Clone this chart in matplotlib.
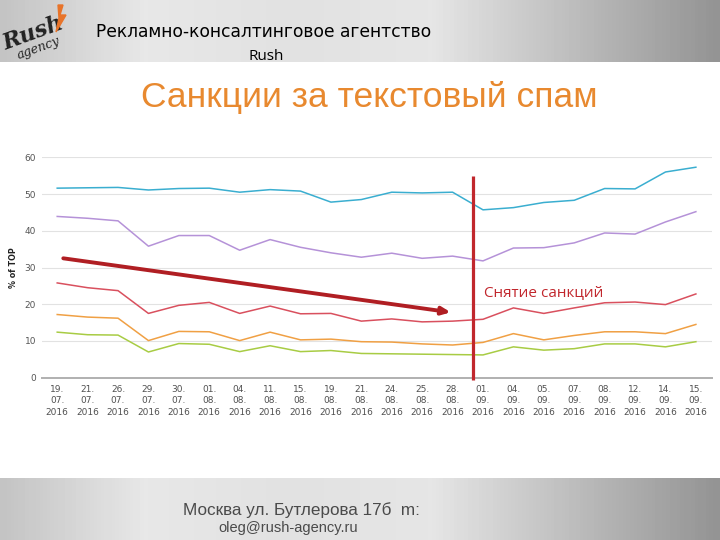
import matplotlib
matplotlib.use("Agg")
import matplotlib.pyplot as plt
import numpy as np

dates = ["19.\n07.\n2016", "21.\n07.\n2016", "26.\n07.\n2016", "29.\n07.\n2016", "30.\n07.\n2016",
         "01.\n08.\n2016", "04.\n08.\n2016", "11.\n08.\n2016", "15.\n08.\n2016", "19.\n08.\n2016",
         "21.\n08.\n2016", "24.\n08.\n2016", "25.\n08.\n2016", "28.\n08.\n2016", "01.\n09.\n2016",
         "04.\n09.\n2016", "05.\n09.\n2016", "07.\n09.\n2016", "08.\n09.\n2016", "12.\n09.\n2016",
         "14.\n09.\n2016", "15.\n09.\n2016"]

blue = [51.6, 51.7, 51.8, 51.1, 51.5, 51.6, 50.5, 51.2, 50.8, 47.8, 48.5,
        50.5, 50.3, 50.5, 45.7, 46.3, 47.7, 48.3, 51.5, 51.4, 56.0, 57.3]
purple = [43.9, 43.4, 42.7, 35.8, 38.7, 38.7, 34.7, 37.6, 35.5, 34.0, 32.8,
          33.9, 32.5, 33.1, 31.8, 35.3, 35.4, 36.7, 39.4, 39.1, 42.4, 45.2]
red = [25.8, 24.5, 23.7, 17.5, 19.7, 20.5, 17.5, 19.5, 17.4, 17.5, 15.4,
       16.0, 15.2, 15.4, 15.9, 19.0, 17.5, 19.0, 20.4, 20.6, 19.9, 22.8]
orange = [17.2, 16.5, 16.2, 10.1, 12.6, 12.5, 10.1, 12.4, 10.3, 10.5, 9.8,
          9.7, 9.2, 8.9, 9.6, 12.0, 10.3, 11.5, 12.5, 12.5, 12.0, 14.5]
green = [12.4, 11.7, 11.6, 7.0, 9.3, 9.1, 7.1, 8.7, 7.1, 7.4, 6.6,
         6.5, 6.4, 6.3, 6.2, 8.4, 7.5, 7.9, 9.2, 9.2, 8.4, 9.8]

yticks = [0, 10, 20, 30, 40, 50, 60]
series = [blue, purple, red, orange, green]
colors = ["#3aaed0", "#b592d8", "#d9505e", "#f0a044", "#a8cc44"]

trend_start = (0.2, 32.5)
trend_end = (12.94, 17.8)
sanction_x = 13.66
sanction_top = 54.8
sanction_label = "Снятие санкций"

fig = plt.figure(figsize=(7.2, 5.4), dpi=100)

# background bands
bg = fig.add_axes([0, 0, 1, 1])
bg.axis("off")
grad = np.linspace(0, 1, 200)[None, :]
cmap = matplotlib.colors.LinearSegmentedColormap.from_list(
    "band", ["#c4c4c4", "#e8e8e8", "#e2e2e2", "#e6e6e6", "#bdbdbd", "#949494"])
bg.imshow(grad, extent=[0, 720, 62, 0], aspect="auto", cmap=cmap, zorder=0)
bg.imshow(grad, extent=[0, 720, 540, 478], aspect="auto", cmap=cmap, zorder=0)
bg.set_xlim(0, 720)
bg.set_ylim(540, 0)

# logo
bg.text(33, 34, "Rush", fontsize=16, fontweight="bold", family="DejaVu Serif",
        color="#222222", rotation=20, ha="center", va="center", style="italic")
bg.text(38, 48, "agency", fontsize=9, family="DejaVu Serif", color="#222222",
        rotation=20, ha="center", va="center", style="italic")
bg.fill([58, 63, 60, 66, 56, 59], [5, 5, 15, 15, 32, 18], color="#e8742a", zorder=3)

bg.text(96, 32, "Рекламно-консалтинговое агентство", fontsize=12.3,
        family="DejaVu Sans", color="black", ha="left", va="center")
bg.text(266, 57, "Rush", fontsize=11, family="Open Sans", color="black",
        ha="center", va="center")
bg.text(369, 97, "Санкции за текстовый спам", fontsize=25.5,
        family="Liberation Sans", color="#e8892f", ha="center", va="center")
bg.text(301, 510, "Москва ул. Бутлерова 17б  m:", fontsize=12.3,
        family="Liberation Sans", color="#4a4a4a", ha="center", va="center")
bg.text(288, 528, "oleg@rush-agency.ru", fontsize=10.5,
        family="Liberation Sans", color="#4a4a4a", ha="center", va="center")

# chart
ax = fig.add_axes([41.7 / 720, 1 - 377.7 / 540, 670 / 720, 220.4 / 540])
x = np.arange(len(dates))
for s, c in zip(series, colors):
    ax.plot(x, s, color=c, lw=1.1, zorder=3, clip_on=False)

ax.set_xlim(-0.51, 21.52)
ax.set_ylim(0, 60)
ax.set_yticks(yticks)
ax.set_yticklabels([str(v) for v in yticks], fontsize=6.5, color="#555555")
ax.set_xticks(x)
ax.set_xticklabels(dates, fontsize=6.5, color="#505050", linespacing=1.4)
ax.tick_params(length=0, pad=5)
ax.tick_params(axis="y", pad=4)
ax.grid(axis="y", color="#e2e2e2", lw=0.8)
ax.set_axisbelow(True)
for sp in ["top", "right", "left"]:
    ax.spines[sp].set_visible(False)
ax.spines["bottom"].set_color("#b0b0b0")
ax.spines["bottom"].set_linewidth(1.4)
ax.set_ylabel("% of TOP", fontsize=5.8, fontweight="bold", color="#222222")
ax.yaxis.set_label_coords(-0.036, 0.5)

ax.plot([sanction_x, sanction_x], [-0.6, sanction_top], color="#c1272d", lw=2.3,
        zorder=5, clip_on=False, solid_capstyle="butt")
ax.text(sanction_x + 0.38, 23.1, sanction_label, fontsize=11, family="Open Sans",
        color="#c1272d", ha="left", va="center")
ax.annotate("", xy=trend_end, xytext=trend_start,
            arrowprops=dict(arrowstyle="-|>,head_length=0.5,head_width=0.22",
                            color="#b01e23", lw=2.8, shrinkA=0, shrinkB=0),
            zorder=6)

fig.savefig("out.png", dpi=100)
